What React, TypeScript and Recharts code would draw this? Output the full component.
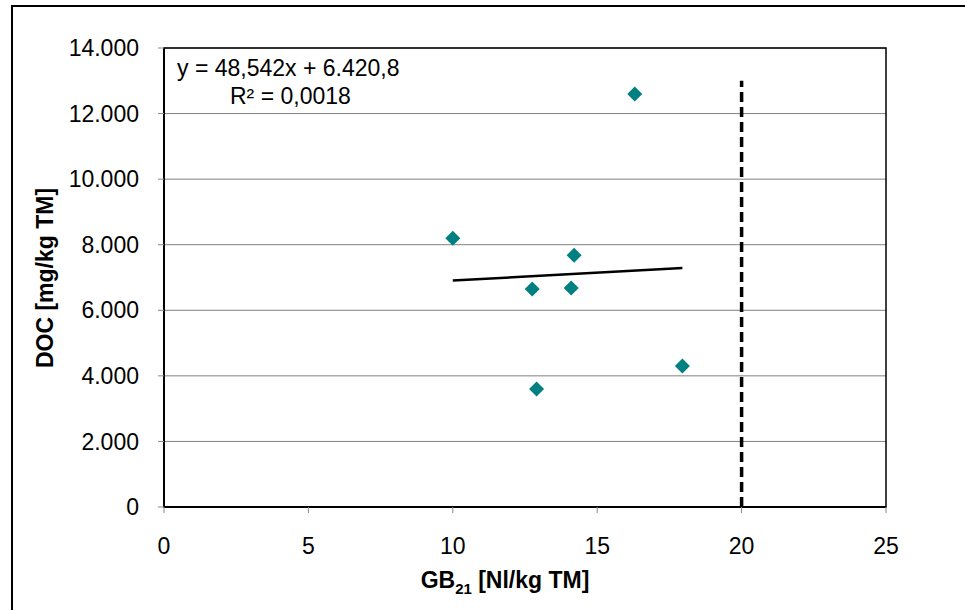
import {
    ScatterChart,
    Scatter,
    XAxis,
    YAxis,
    CartesianGrid,
    ReferenceLine,
    ReferenceArea,
} from "recharts";

const gbValues = [10.0, 12.75, 12.9, 14.1, 14.2, 16.3, 17.95];
const docValues = [8200, 6650, 3600, 6680, 7680, 12600, 4300];

const xTicks = [0, 5, 10, 15, 20, 25];
const yTicks = [0, 2000, 4000, 6000, 8000, 10000, 12000, 14000];

const trendSlope = 48.542;
const trendIntercept = 6420.8;
const limitX = 20;
const limitTop = 13000;

const points = gbValues.map((x, i) => ({ x, y: docValues[i] }));

const trendX = [Math.min(...gbValues), Math.max(...gbValues)];
const trendData = trendX.map((x) => ({ x, y: trendSlope * x + trendIntercept }));

function formatThousands(value: number) {
    return new Intl.NumberFormat("de-DE").format(value);
}

function Diamond(props: any) {
    const { cx, cy } = props;
    const r = 7.5;
    return (
        <path
            d={`M${cx},${cy - r} L${cx + r},${cy} L${cx},${cy + r} L${cx - r},${cy} Z`}
            fill="#008080"
        />
    );
}

const font = "'Liberation Sans', Arial, sans-serif";

function App() {
    return (
        <div
            style={{
                position: "fixed",
                left: 0,
                top: 0,
                width: 965,
                height: 610,
                background: "#ffffff",
                fontFamily: font,
                overflow: "hidden",
            }}
        >
            <div
                style={{
                    position: "absolute",
                    left: 11,
                    top: 5,
                    width: 1000,
                    height: 700,
                    borderLeft: "2px solid #000",
                    borderTop: "2px solid #000",
                }}
            />
            <ScatterChart
                width={965}
                height={610}
                margin={{ top: 48, right: 79, bottom: 0, left: 0 }}
                style={{ position: "absolute", left: 0, top: 0 }}
            >
                <CartesianGrid
                    horizontal={true}
                    vertical={false}
                    stroke="#808080"
                    strokeWidth={1}
                />
                <XAxis
                    type="number"
                    dataKey="x"
                    domain={[0, 25]}
                    ticks={xTicks}
                    interval={0}
                    stroke="#000"
                    strokeWidth={2}
                    tickLine={{ stroke: "#888", strokeWidth: 1 }}
                    tickSize={6}
                    tick={{ fill: "#000", fontSize: 23, fontFamily: font }}
                    tickMargin={25}
                    height={103}
                    allowDataOverflow
                />
                <YAxis
                    type="number"
                    dataKey="y"
                    domain={[0, 14000]}
                    ticks={yTicks}
                    interval={0}
                    stroke="#000"
                    strokeWidth={2}
                    tickLine={{ stroke: "#888", strokeWidth: 1 }}
                    tickSize={6}
                    tick={{ fill: "#000", fontSize: 23, fontFamily: font }}
                    tickMargin={19}
                    tickFormatter={(v) => formatThousands(Number(v))}
                    width={164}
                    allowDataOverflow
                />
                <ReferenceArea
                    x1={0}
                    x2={25}
                    y1={0}
                    y2={14000}
                    fill="none"
                    stroke="#000"
                    strokeWidth={1.5}
                />
                <ReferenceLine
                    segment={[
                        { x: limitX, y: 0 },
                        { x: limitX, y: limitTop },
                    ]}
                    stroke="#000"
                    strokeWidth={3.5}
                    strokeDasharray="10 5"
                />
                <Scatter
                    data={trendData}
                    line={{ stroke: "#000", strokeWidth: 2.5 }}
                    shape={() => null}
                    isAnimationActive={false}
                />
                <Scatter
                    data={points}
                    shape={Diamond}
                    isAnimationActive={false}
                />
            </ScatterChart>
            <svg
                width={965}
                height={610}
                style={{ position: "absolute", left: 0, top: 0, pointerEvents: "none" }}
            >
                <text
                    x={505}
                    y={588}
                    textAnchor="middle"
                    fontSize={23}
                    fontWeight="bold"
                    fontFamily={font}
                    fill="#000"
                >
                    GB
                    <tspan fontSize={15} dy={6}>21</tspan>
                    <tspan dy={-6}> [Nl/kg TM]</tspan>
                </text>
                <text
                    x={53}
                    y={278}
                    transform="rotate(-90 53 278)"
                    textAnchor="middle"
                    fontSize={23}
                    fontWeight="bold"
                    fontFamily={font}
                    fill="#000"
                >
                    DOC [mg/kg TM]
                </text>
            </svg>
            <div
                style={{
                    position: "absolute",
                    left: 177,
                    top: 54,
                    fontSize: 23,
                    lineHeight: "28px",
                    color: "#000",
                }}
            >
                <div>y = 48,542x + 6.420,8</div>
                <div style={{ paddingLeft: 53 }}>R² = 0,0018</div>
            </div>
        </div>
    );
}

export default App;
